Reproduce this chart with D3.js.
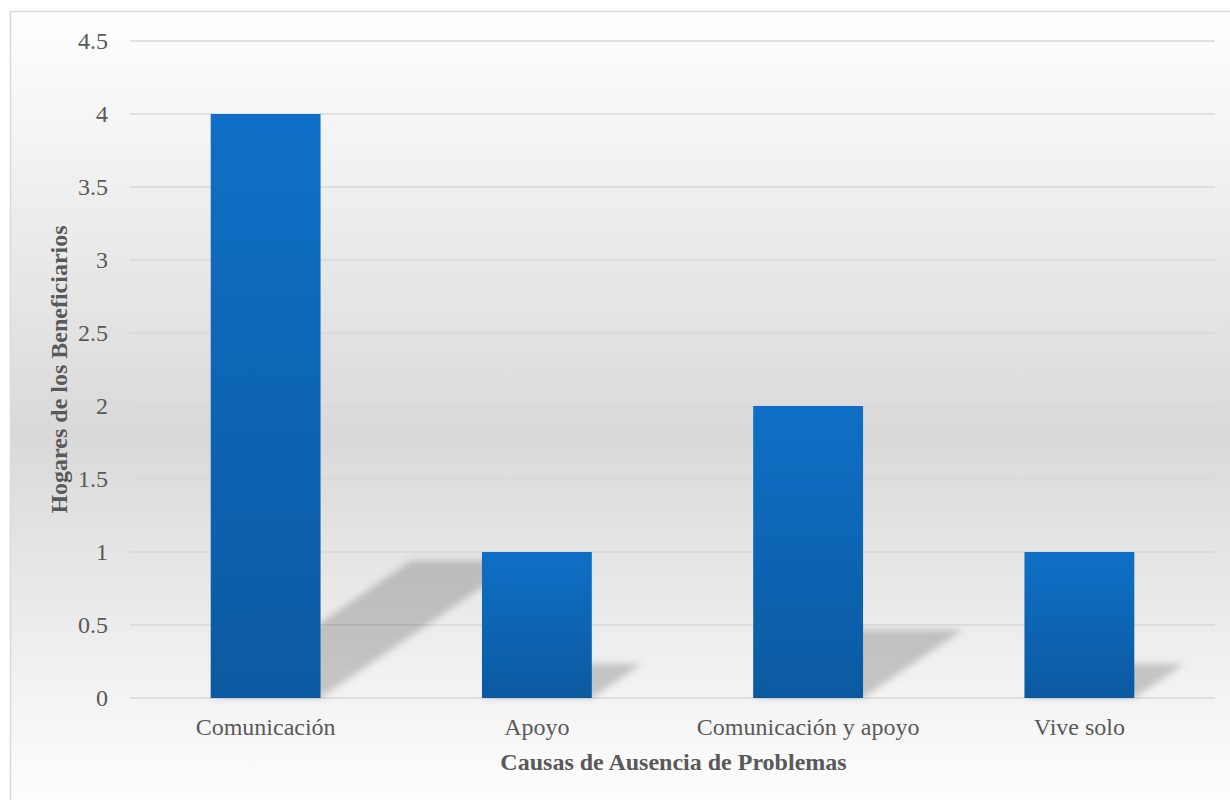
<!DOCTYPE html>
<html>
<head>
<meta charset="utf-8">
<script src="https://cdn.jsdelivr.net/npm/d3@7"></script>
<style>
  html, body { margin: 0; padding: 0; background: #ffffff; }
  svg { display: block; }
</style>
</head>
<body>
<svg id="chart" width="1230" height="800"></svg>
<script>
const categories = ["Comunicación", "Apoyo", "Comunicación y apoyo", "Vive solo"];
const values = [4, 1, 2, 1];
const yTicks = [0, 0.5, 1, 1.5, 2, 2.5, 3, 3.5, 4, 4.5];
const yTitle = "Hogares de los Beneficiarios";
const xTitle = "Causas de Ausencia de Problemas";

const W = 1230, H = 800;
const margin = { left: 130, right: 15, top: 41, bottom: 102 };
const FONT = "'Liberation Serif', 'Times New Roman', serif";
const svg = d3.select("#chart");
const defs = svg.append("defs");

// background gradient
const bg = defs.append("linearGradient").attr("id", "bgGrad")
  .attr("x1", 0).attr("y1", 0).attr("x2", 0).attr("y2", 1);
bg.append("stop").attr("offset", "0%").attr("stop-color", "#ffffff");
bg.append("stop").attr("offset", "53%").attr("stop-color", "#d9d9d9");
bg.append("stop").attr("offset", "100%").attr("stop-color", "#ffffff");

// bar gradient
const bg2 = defs.append("linearGradient").attr("id", "barGrad")
  .attr("x1", 0).attr("y1", 0).attr("x2", 0).attr("y2", 1);
bg2.append("stop").attr("offset", "0%").attr("stop-color", "#0f6fc6");
bg2.append("stop").attr("offset", "100%").attr("stop-color", "#0b5aa1");

const blur = defs.append("filter").attr("id", "blur")
  .attr("x", "-20%").attr("y", "-20%").attr("width", "140%").attr("height", "140%");
blur.append("feGaussianBlur").attr("stdDeviation", 3.5);

svg.append("rect").attr("x", 10.5).attr("y", 11.5).attr("width", W).attr("height", H)
  .attr("fill", "url(#bgGrad)").attr("stroke", "#d9d9d9").attr("stroke-width", 1.5);

const x = d3.scaleBand().domain(categories)
  .range([margin.left, W - margin.right]).paddingInner(0.595).paddingOuter(0.2975);
const y = d3.scaleLinear().domain([0, 4.5]).range([H - margin.bottom, margin.top]);

// gridlines
svg.append("g").selectAll("line").data(yTicks).join("line")
  .attr("x1", margin.left).attr("x2", W - margin.right)
  .attr("y1", d => y(d)).attr("y2", d => y(d))
  .attr("stroke", "#d9d9d9").attr("stroke-width", 1.5);

// shadows
const shadowScale = 0.235, shadowSkew = 1.46;
svg.append("g").attr("filter", "url(#blur)").selectAll("path").data(categories).join("path")
  .attr("d", (c, i) => {
    const x0 = x(c), x1 = x(c) + x.bandwidth();
    const y0 = y(0);
    const hs = (y(0) - y(values[i])) * shadowScale;
    const dx = hs * shadowSkew;
    return `M${x0},${y0} L${x1},${y0} L${x1 + dx},${y0 - hs} L${x0 + dx},${y0 - hs} Z`;
  })
  .attr("fill", "#000").attr("fill-opacity", 0.19);

// bars
svg.append("g").selectAll("rect").data(categories).join("rect")
  .attr("x", c => x(c)).attr("width", x.bandwidth())
  .attr("y", (c, i) => y(values[i])).attr("height", (c, i) => y(0) - y(values[i]))
  .attr("fill", "url(#barGrad)");

// y axis labels
const yAxis = d3.axisLeft(y).tickValues(yTicks).tickSize(0).tickPadding(0)
  .tickFormat(d => String(d));
const gy = svg.append("g").attr("transform", `translate(${108},0)`).call(yAxis);
gy.select(".domain").remove();
gy.selectAll("text").attr("font-family", FONT)
  .attr("font-size", 24).attr("fill", "#595959").attr("dy", "0.33em");

// x axis labels
const xAxis = d3.axisBottom(x).tickSize(0).tickPadding(0);
const gx = svg.append("g").attr("transform", `translate(0,${y(0)})`).call(xAxis);
gx.select(".domain").remove();
gx.selectAll("text").attr("font-family", FONT)
  .attr("font-size", 24).attr("fill", "#595959").attr("y", 37).attr("dy", 0);

// titles
svg.append("text").attr("x", (margin.left + W - margin.right) / 2 + 1).attr("y", 770)
  .attr("text-anchor", "middle").attr("font-family", FONT)
  .attr("font-size", 24).attr("font-weight", "bold").attr("fill", "#595959").text(xTitle);

svg.append("text").attr("transform", `translate(67,${(y(0) + y(4.5)) / 2}) rotate(-90)`)
  .attr("text-anchor", "middle").attr("font-family", FONT)
  .attr("font-size", 24).attr("font-weight", "bold").attr("fill", "#595959").text(yTitle);
</script>
</body>
</html>
